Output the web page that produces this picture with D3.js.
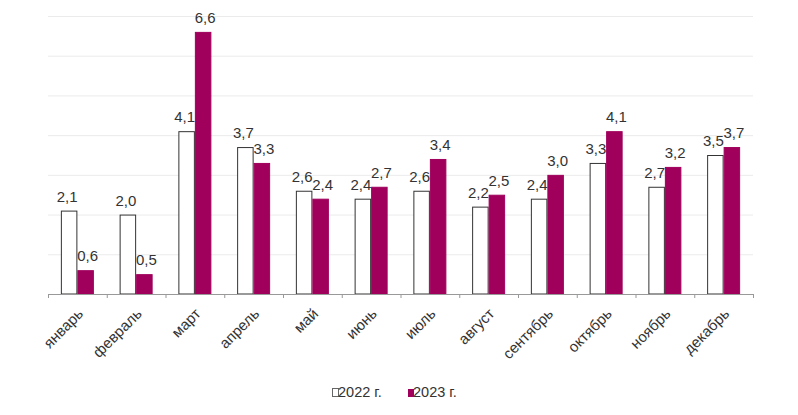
<!DOCTYPE html>
<html><head><meta charset="utf-8">
<script src="https://cdn.jsdelivr.net/npm/d3@7"></script>
<style>body{margin:0;background:#fff}svg{display:block}text{font-family:"Liberation Sans",Arial,sans-serif}</style>
</head><body>
<script>
const months = ["январь","февраль","март","апрель","май","июнь","июль","август","сентябрь","октябрь","ноябрь","декабрь"];
const series = ["2022 г.","2023 г."];
const v2022 = [2.1,2.0,4.1,3.7,2.6,2.4,2.6,2.2,2.4,3.3,2.7,3.5];
const v2023 = [0.6,0.5,6.6,3.3,2.4,2.7,3.4,2.5,3.0,4.1,3.2,3.7];
const yTicks = [0,1,2,3,4,5,6,7];

const W=798,H=415;
const svg=d3.select("body").append("svg").attr("width",W).attr("height",H);
const x=d3.scaleBand().domain(months).range([48,753]).paddingInner(0).paddingOuter(0);
const y=d3.scaleLinear().domain([0,7]).range([294,16]);
const inner=d3.scaleBand().domain(series).range([0,x.bandwidth()]).paddingInner(0).paddingOuter(0.78);

// grid
svg.append("g").selectAll("line").data(yTicks.slice(1)).join("line")
 .attr("x1",48).attr("x2",753).attr("y1",d=>y(d)+0.5).attr("y2",d=>y(d)+0.5)
 .attr("stroke","#ebebeb").attr("stroke-width",1);

const data=months.map((m,i)=>({m,vals:[v2022[i],v2023[i]]}));
const colors=["#ffffff","#a0005c"];
const strokes=["#333333","#a0005c"];
const g=svg.append("g").selectAll("g").data(data).join("g").attr("transform",d=>`translate(${x(d.m)},0)`);
g.selectAll("rect").data(d=>d.vals.map((v,k)=>({v,k}))).join("rect")
 .attr("x",d=>inner(series[d.k])+0.5).attr("width",inner.bandwidth()-1)
 .attr("y",d=>y(d.v)+0.5).attr("height",d=>y(0)-y(d.v)-0.5)
 .attr("fill",d=>colors[d.k]).attr("stroke",d=>strokes[d.k]).attr("stroke-width",1);
g.selectAll("text").data(d=>d.vals.map((v,k)=>({v,k}))).join("text")
 .attr("x",d=>inner(series[d.k])+inner.bandwidth()/2+(d.k?2:-2))
 .attr("y",d=>y(d.v)-9).attr("text-anchor","middle")
 .attr("font-size",15).attr("fill","#333")
 .text(d=>d.v.toFixed(1).replace(".",","));

// axis
const ax=svg.append("g").attr("transform","translate(0,294)");
ax.append("line").attr("x1",48).attr("x2",753).attr("y1",0.5).attr("y2",0.5).attr("stroke","#999");
const bounds=months.map(m=>x(m)).concat([753]);
ax.selectAll("line.t").data(bounds).join("line").attr("class","t")
 .attr("x1",d=>d+0.5).attr("x2",d=>d+0.5).attr("y1",0).attr("y2",4).attr("stroke","#999");
ax.selectAll("text").data(months).join("text")
 .attr("transform",d=>`translate(${x(d)+x.bandwidth()/2+3},${17}) rotate(-45)`)
 .attr("text-anchor","end").attr("dy","0.35em").attr("font-size",15).attr("fill","#333")
 .text(d=>d);

// legend
const lg=svg.append("g").attr("transform","translate(332,397)");
lg.append("rect").attr("x",0.5).attr("y",-8.5).attr("width",6).attr("height",8).attr("fill","#fff").attr("stroke","#666");
lg.append("text").attr("x",6).attr("y",0).attr("font-size",14.5).attr("fill","#333").text(series[0]);
lg.append("rect").attr("x",76).attr("y",-8).attr("width",6).attr("height",8).attr("fill","#a0005c");
lg.append("text").attr("x",81).attr("y",0).attr("font-size",14.5).attr("fill","#333").text(series[1]);
</script>
</body></html>
